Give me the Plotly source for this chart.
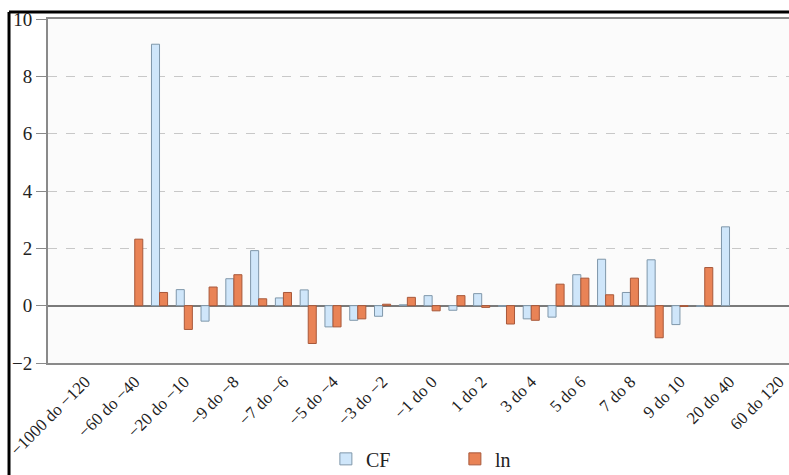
import plotly.graph_objects as go

categories = [
    "−1000 do −120", "−120 do −60", "−60 do −40", "−40 do −20", "−20 do −10",
    "−10 do −9", "−9 do −8", "−8 do −7", "−7 do −6", "−6 do −5",
    "−5 do −4", "−4 do −3", "−3 do −2", "−2 do −1", "−1 do 0",
    "0 do 1", "1 do 2", "2 do 3", "3 do 4", "4 do 5",
    "5 do 6", "6 do 7", "7 do 8", "8 do 9", "9 do 10",
    "10 do 20", "20 do 40", "40 do 60", "60 do 120",
]
cf_values = [
    None, None, None, 9.12, 0.56,
    -0.54, 0.94, 1.92, 0.27, 0.55,
    -0.74, -0.51, -0.37, 0.03, 0.35,
    -0.16, 0.42, -0.02, -0.46, -0.40,
    1.08, 1.62, 0.46, 1.60, -0.66,
    -0.03, 2.75, None, None,
]
ln_values = [
    None, None, 2.32, 0.46, -0.83,
    0.65, 1.08, 0.24, 0.46, -1.32,
    -0.74, -0.46, 0.05, 0.29, -0.18,
    0.35, -0.06, -0.64, -0.51, 0.75,
    0.96, 0.38, 0.96, -1.12, -0.03,
    1.33, None, None, None,
]
tick_labels = categories[::2]
y_ticks = [-2, 0, 2, 4, 6, 8, 10]

FONT = "Liberation Serif"

fig = go.Figure()
fig.add_trace(go.Bar(
    name="CF", x=categories, y=cf_values,
    marker=dict(color="#cfe6fa", line=dict(color="#7f97aa", width=1)),
))
fig.add_trace(go.Bar(
    name="ln", x=categories, y=ln_values,
    marker=dict(color="#e98356", line=dict(color="#a8583a", width=1)),
))

fig.update_layout(
    width=789, height=475,
    margin=dict(l=48, r=0, t=19, b=112, autoexpand=False),
    paper_bgcolor="white",
    plot_bgcolor="#fbfbfb",
    barmode="group",
    bargap=0.35,
    bargroupgap=0,
    font=dict(family=FONT, color="#222", size=16),
    showlegend=True,
    legend=dict(
        orientation="h",
        x=0.375, xanchor="left",
        y=-0.222, yanchor="top",
        entrywidth=84, entrywidthmode="pixels",
        font=dict(family=FONT, size=20, color="#222"),
        bgcolor="rgba(0,0,0,0)",
    ),
    xaxis=dict(
        type="category",
        range=[-1.5, 28.4],
        automargin=False,
        tickmode="array",
        tickvals=tick_labels,
        ticktext=tick_labels,
        tickangle=-45,
        ticks="",
        showgrid=False,
        showline=True, linecolor="#8a8a8a", linewidth=2, mirror=True,
        tickfont=dict(family=FONT, size=17, color="#222"),
    ),
    yaxis=dict(
        range=[-2, 10],
        automargin=False,
        tickmode="array",
        tickvals=y_ticks,
        ticks="outside", ticklen=10, tickcolor="#8a8a8a", tickwidth=1,
        showgrid=True, gridcolor="#c8c8c8", griddash="dash", gridwidth=1,
        zeroline=True, zerolinecolor="#7a7a7a", zerolinewidth=1.5,
        showline=True, linecolor="#8a8a8a", linewidth=2,
        tickfont=dict(family=FONT, size=19, color="#222"),
    ),
    shapes=[
        dict(type="line", xref="paper", yref="paper",
             x0=-0.0526, x1=1.02, y0=1.0203, y1=1.0203,
             line=dict(color="black", width=3)),
        dict(type="line", xref="paper", yref="paper",
             x0=-0.0526, x1=-0.0526, y0=1.0203, y1=-0.35,
             line=dict(color="black", width=3)),
    ],
)

fig.write_html(
    "out.html",
    config={"displayModeBar": False},
    post_script="document.body.style.margin='0';document.body.style.overflow='hidden';",
)
